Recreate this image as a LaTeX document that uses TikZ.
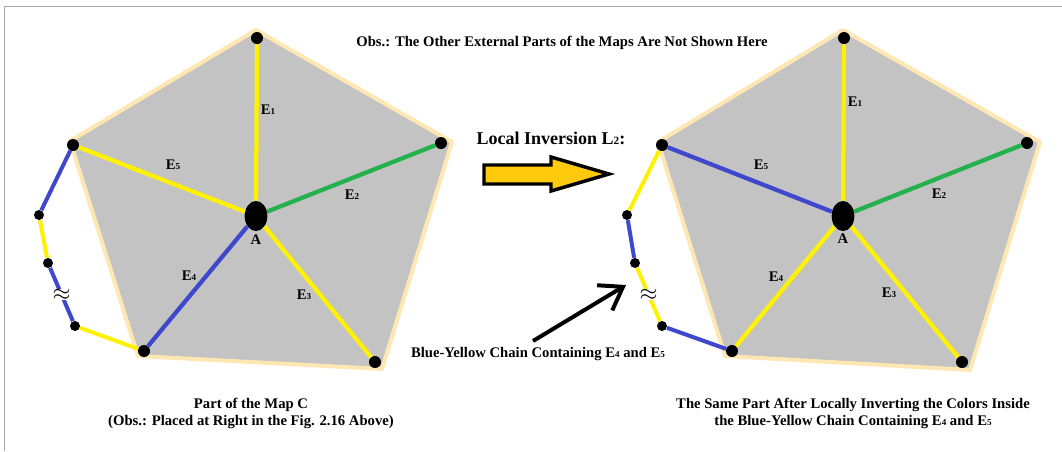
\documentclass[tikz,border=0pt]{standalone}
\usepackage{fontspec}
\setmainfont{Liberation Serif}
\usetikzlibrary{arrows.meta,shapes.geometric}

\definecolor{mapyellow}{HTML}{FFF200}
\definecolor{mapblue}{HTML}{3F48CC}
\definecolor{mapgreen}{HTML}{22B14C}
\definecolor{mapgray}{HTML}{C3C3C3}
\definecolor{maprim}{HTML}{FFE7B3}
\definecolor{arrowgold}{HTML}{FFC90E}

% small digit sitting on the baseline
\newcommand{\dg}[1]{\scalebox{0.62}{#1}}

\tikzset{
  vdot/.style={circle,fill=black,inner sep=0pt,minimum size=9pt},
  cdot/.style={circle,fill=black,inner sep=0pt,minimum size=7.5pt},
  hub/.style={ellipse,fill=black,inner sep=0pt,minimum width=17pt,minimum height=22.5pt},
  edge/.style={line width=3.2pt},
  chain/.style={line width=3pt},
  rim/.style={draw=maprim,line width=3pt,fill=mapgray,line join=round},
  lab/.style={font=\bfseries\fontsize{11}{12}\selectfont,inner sep=1pt},
  gap/.style={fill=white,text=black,inner sep=0pt,font=\fontsize{18}{18}\selectfont},
  caption/.style={font=\bfseries\fontsize{11}{12.75}\selectfont,align=center,inner sep=1pt}
}

\begin{document}
\begin{tikzpicture}[x=0.75pt,y=-0.75pt,>={Straight Barb[length=16pt,width=22pt]}]
\useasboundingbox (0,0) rectangle (1062,451);
\draw[gray!70] (4,451) -- (4,6) -- (1062,6);

% left map
\draw[rim] (256,30) -- (452,142) -- (382,369) -- (138,356) -- (70,141) -- cycle;
\node[hub] (lA) at (256,216) {};
\node[vdot] (l1) at (257,38) {};
\node[vdot] (l2) at (441,143) {};
\node[vdot] (l3) at (375,362) {};
\node[vdot] (l4) at (144,351) {};
\node[vdot] (l5) at (73,145) {};
\node[cdot] (lc1) at (39,215) {};
\node[cdot] (lc2) at (48,263) {};
\node[cdot] (lc3) at (75,326) {};
\draw[edge,mapyellow] (lA) -- (l1);
\draw[edge,mapgreen] (lA) -- (l2);
\draw[edge,mapyellow] (lA) -- (l3);
\draw[edge,mapblue] (lA) -- (l4);
\draw[edge,mapyellow] (lA) -- (l5);
\draw[chain,mapblue] (l5) -- (lc1);
\draw[chain,mapyellow] (lc1) -- (lc2);
\draw[chain,mapblue] (lc2) -- node[gap] {$\approx$} (lc3);
\draw[chain,mapyellow] (lc3) -- (l4);
\node[lab] (lE1) at (268,110) {E\dg{1}};
\node[lab] (lE2) at (352,195) {E\dg{2}};
\node[lab] (lE3) at (304,295) {E\dg{3}};
\node[lab] (lE4) at (189,276) {E\dg{4}};
\node[lab] (lE5) at (173,165) {E\dg{5}};
\node[lab] (lAlab) at (256,240) {A};

% right map
\draw[rim] (843,30) -- (1040,142) -- (970,370) -- (725,356) -- (658,142) -- cycle;
\node[hub] (rA) at (843,216) {};
\node[vdot] (r1) at (844,38) {};
\node[vdot] (r2) at (1027,143) {};
\node[vdot] (r3) at (962,362) {};
\node[vdot] (r4) at (732,351) {};
\node[vdot] (r5) at (662,145) {};
\node[cdot] (rc1) at (627,215) {};
\node[cdot] (rc2) at (635,263) {};
\node[cdot] (rc3) at (662,326) {};
\draw[edge,mapyellow] (rA) -- (r1);
\draw[edge,mapgreen] (rA) -- (r2);
\draw[edge,mapyellow] (rA) -- (r3);
\draw[edge,mapyellow] (rA) -- (r4);
\draw[edge,mapblue] (rA) -- (r5);
\draw[chain,mapyellow] (r5) -- (rc1);
\draw[chain,mapblue] (rc1) -- (rc2);
\draw[chain,mapyellow] (rc2) -- node[gap] {$\approx$} (rc3);
\draw[chain,mapblue] (rc3) -- (r4);
\node[lab] (rE1) at (855,102) {E\dg{1}};
\node[lab] (rE2) at (939,194) {E\dg{2}};
\node[lab] (rE3) at (889,293) {E\dg{3}};
\node[lab] (rE4) at (776,277) {E\dg{4}};
\node[lab] (rE5) at (761,165) {E\dg{5}};
\node[lab] (rAlab) at (843,239) {A};

% texts and arrows in the middle
\node[lab] (obs) at (562,43) {Obs.: The Other External Parts of the Maps Are Not Shown Here};
\node[font=\bfseries\fontsize{13.5}{14}\selectfont,inner sep=1pt] (inv) at (551,138) {Local Inversion L\dg{2}:};
\draw[fill=arrowgold,line width=2.6pt,line join=miter] (484,165) -- (551,165) -- (551,157) -- (609,174) -- (551,191) -- (551,184) -- (484,184) -- cycle;
\node[lab] (chainlab) at (538,354) {Blue-Yellow Chain Containing E\dg{4} and E\dg{5}};
\coordinate (tail) at (533,341);
\coordinate (tip) at (626,285);
\draw[->,line width=3pt] (tail) -- (tip);
\node[caption] (capl) at (251,413) {Part of the Map C\\(Obs.: Placed at Right in the Fig. 2.16 Above)};
\node[caption] (capr) at (853,413) {The Same Part After Locally Inverting the Colors Inside\\the Blue-Yellow Chain Containing E\dg{4} and E\dg{5}};
\end{tikzpicture}
\end{document}
